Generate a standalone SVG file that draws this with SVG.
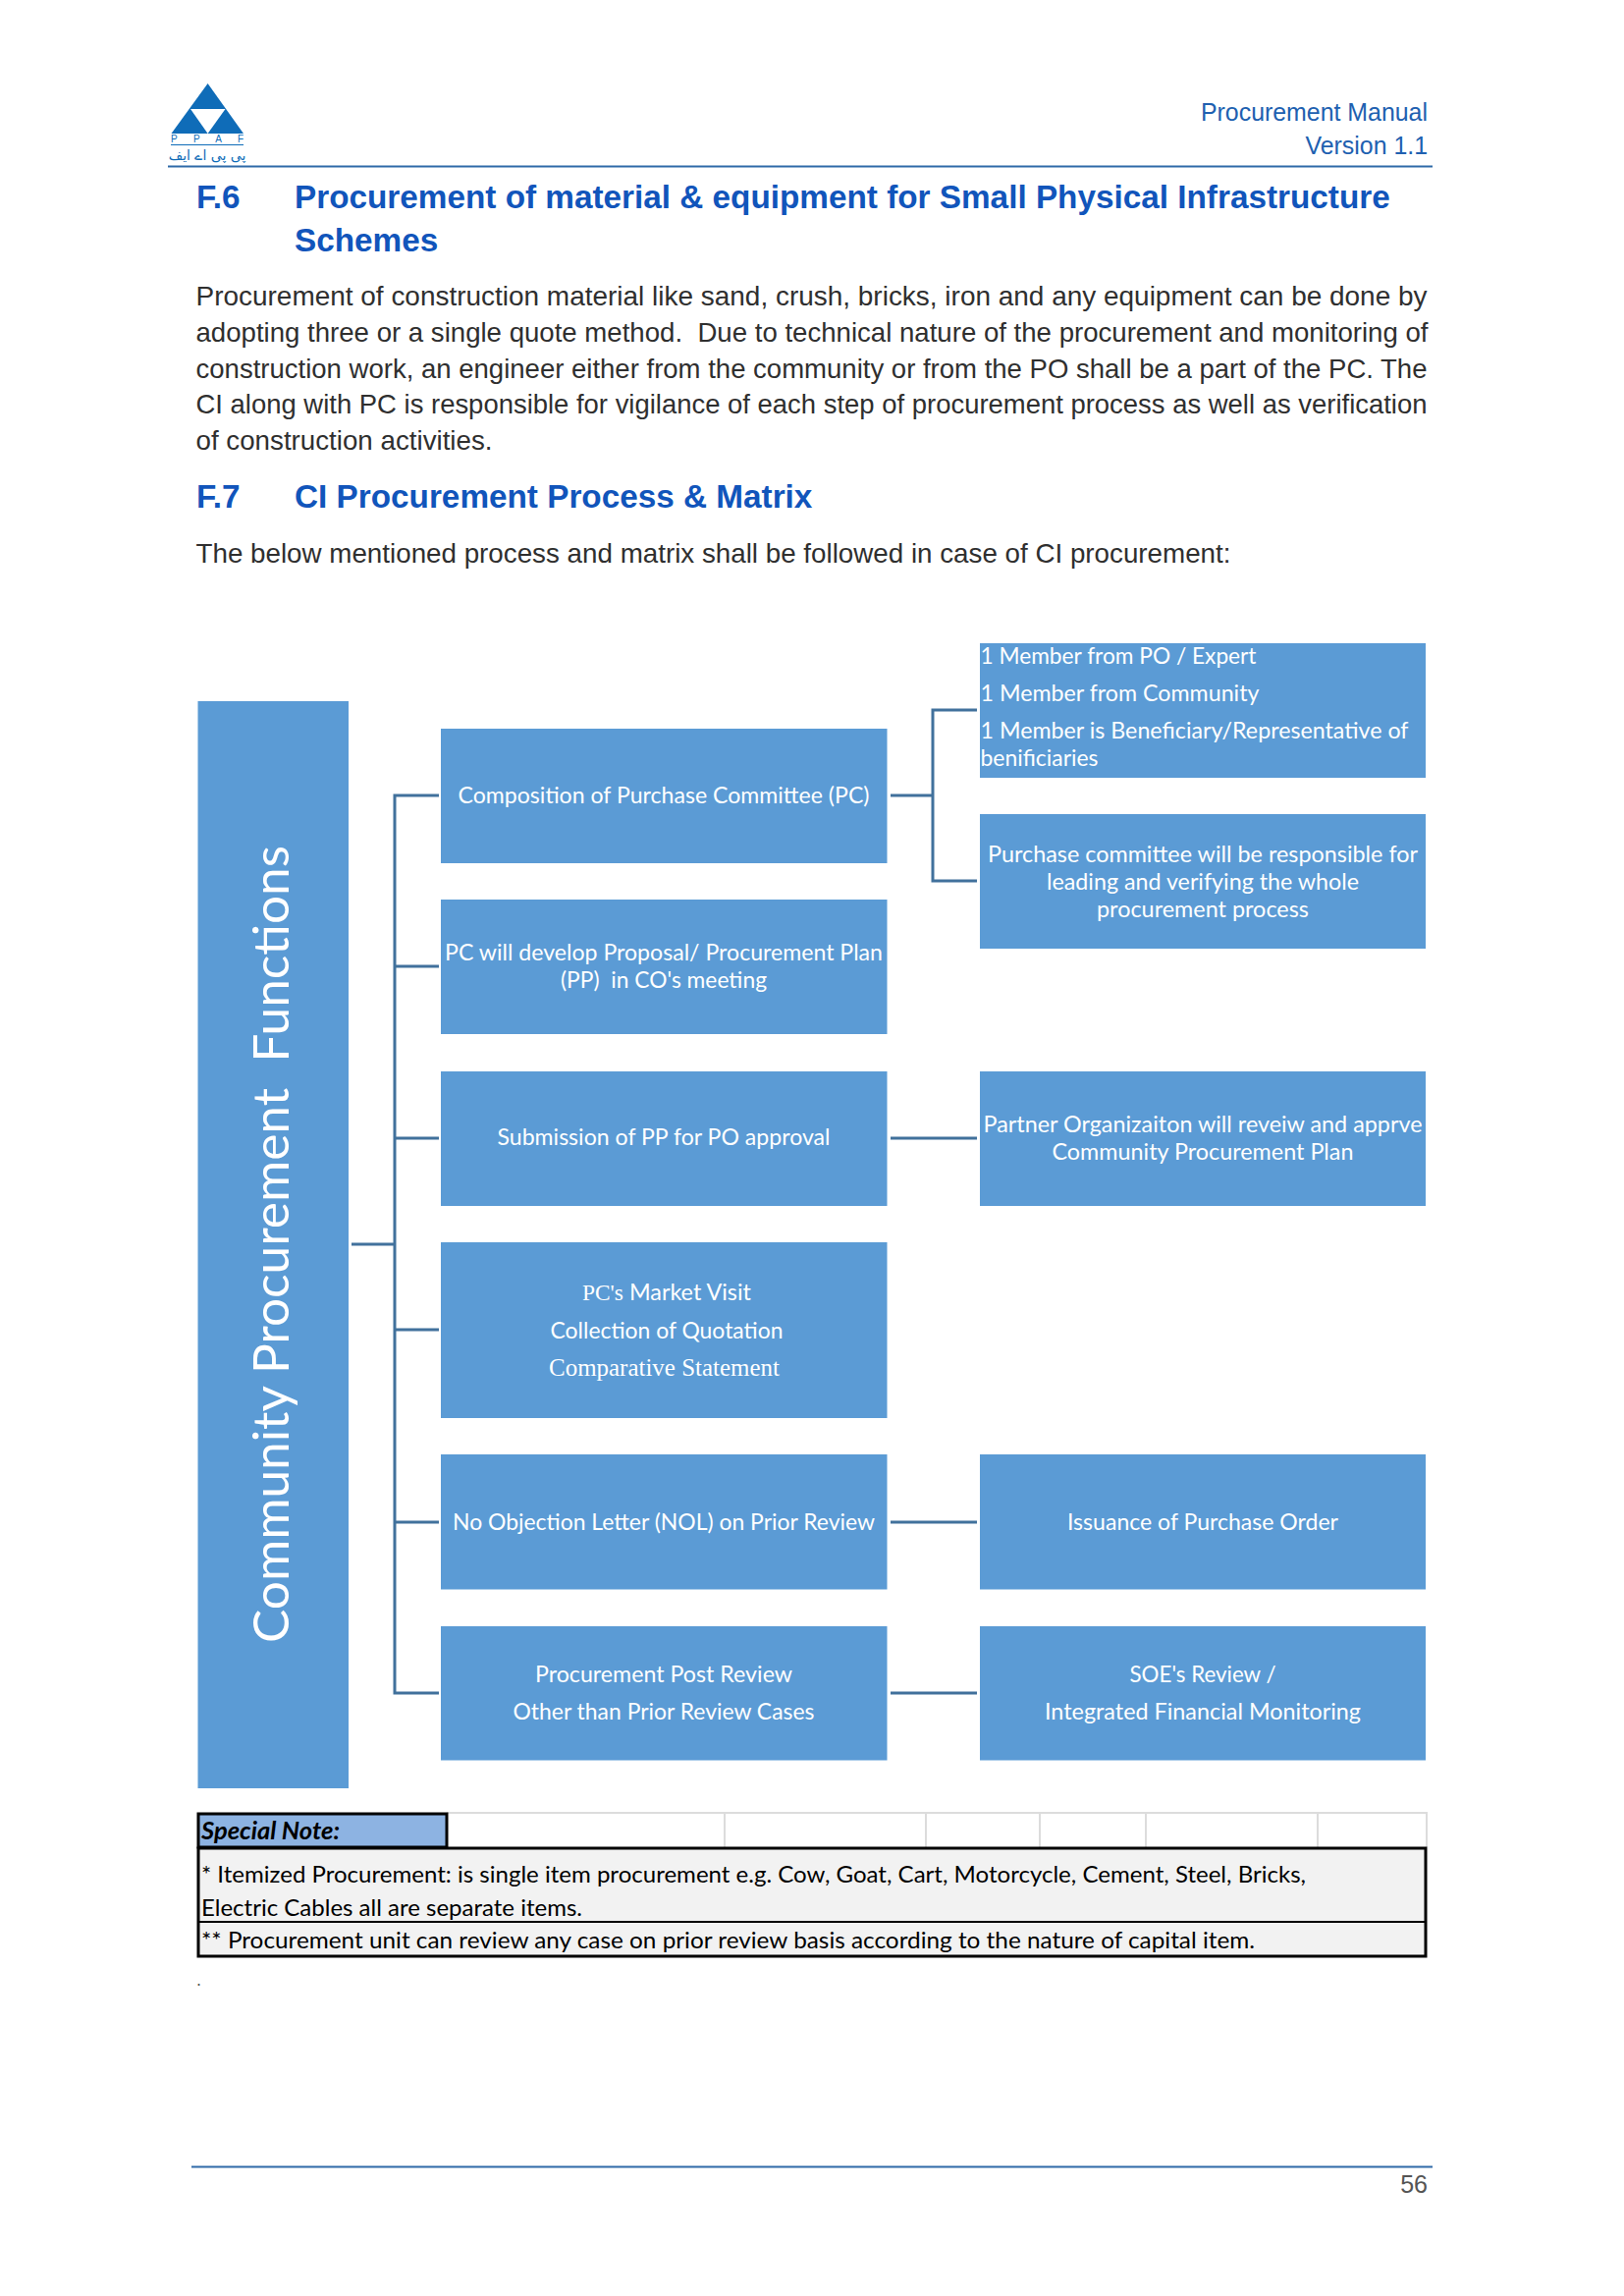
<svg xmlns="http://www.w3.org/2000/svg" width="1654" height="2338" viewBox="0 0 1654 2338">
<style>
text{font-family:"Liberation Sans",Arial,sans-serif}
.h{font-weight:bold;font-size:33.3px;fill:#1155bb}
.b{font-size:27.5px;fill:#2f2f2f}
.hdr{font-size:24.9px;fill:#2060b0}
.box{fill:#5b9bd5}
.t{font-family:Lato,"Open Sans",sans-serif;font-size:23px;fill:#fff}
.c{text-anchor:middle}
.n{font-family:Lato,"Open Sans",sans-serif;font-size:24px;fill:#000}
.s{font-family:"Liberation Serif",serif;font-size:25px;fill:#fff;text-anchor:middle}
.sf{font-family:"Liberation Serif",serif}
.conn{fill:none;stroke:#41719c;stroke-width:3}
.grid{stroke:#dcdcdc;stroke-width:2;fill:none}
.bk{stroke:#000;fill:none}
.rule{stroke:#2f6aa8;stroke-width:2}
</style>
<rect width="1654" height="2338" fill="#fff"/>
<g id="logo">
<path d="M211.6 85L248 136H174.5Z" fill="#0f6cb8"/>
<path d="M194 111H229.500L211.6 136Z" fill="#fff"/>
<text x="174" y="145" font-size="10" fill="#0f6cb8" textLength="74">P P A F</text>
<path d="M174 147.500H248" stroke="#0f6cb8" stroke-width="1"/>
<text x="211" y="163" font-size="14" text-anchor="middle" fill="#0f6cb8" style="font-family:'DejaVu Sans',sans-serif">پی پی اے ایف</text>
</g>
<g id="header">
<text class="hdr" x="1454" y="123" text-anchor="end">Procurement Manual</text>
<text class="hdr" x="1454" y="157" text-anchor="end">Version 1.1</text>
<path class="rule" d="M171 169.500H1459"/>
</g>
<g id="text">
<text class="h" x="200" y="212">F.6</text>
<text class="h" x="300" y="212">Procurement of material &amp; equipment for Small Physical Infrastructure</text>
<text class="h" x="300" y="256">Schemes</text>
<text class="b" x="199.500" y="311" textLength="1254" lengthAdjust="spacingAndGlyphs">Procurement of construction material like sand, crush, bricks, iron and any equipment can be done by</text>
<text class="b" x="199.500" y="348" textLength="1255" lengthAdjust="spacingAndGlyphs" xml:space="preserve">adopting three or a single quote method.  Due to technical nature of the procurement and monitoring of</text>
<text class="b" x="199.500" y="384.500" textLength="1254" lengthAdjust="spacingAndGlyphs">construction work, an engineer either from the community or from the PO shall be a part of the PC. The</text>
<text class="b" x="199.500" y="421" textLength="1254" lengthAdjust="spacingAndGlyphs">CI along with PC is responsible for vigilance of each step of procurement process as well as verification</text>
<text class="b" x="199.500" y="458" textLength="302" lengthAdjust="spacingAndGlyphs">of construction activities.</text>
<text class="h" x="200" y="516.500">F.7</text>
<text class="h" x="300" y="516.500">CI Procurement Process &amp; Matrix</text>
<text class="b" x="199.500" y="572.500" textLength="1054" lengthAdjust="spacingAndGlyphs">The below mentioned process and matrix shall be followed in case of CI procurement:</text>
</g>
<g id="connectors">
<path class="conn" d="M358 1267H402M447 810H402V1724H447M402 984H447M402 1159H447M402 1354H447M402 1550H447"/>
<path class="conn" d="M907 810H950M995 723H950V897H995"/>
<path class="conn" d="M907 1159H995M907 1550H995M907 1724H995"/>
</g>
<g id="n-root"><rect class="box" x="201.500" y="714" width="153.500" height="1107"/>
<text transform="translate(294 1267) rotate(-90)" text-anchor="middle" style="font-family:Lato,'Open Sans',sans-serif;font-size:50px;fill:#fff" textLength="812" lengthAdjust="spacingAndGlyphs" xml:space="preserve">Community Procurement  Functions</text></g>
<g id="n-pc"><rect class="box" x="449" y="742" width="454.500" height="137"/><text class="t c" x="676" y="818" textLength="419" lengthAdjust="spacingAndGlyphs">Composition of Purchase Committee (PC)</text></g>
<g id="n-plan"><rect class="box" x="449" y="916" width="454.500" height="137"/><text class="t c" x="676" y="978" textLength="446" lengthAdjust="spacingAndGlyphs">PC will develop Proposal/ Procurement Plan</text><text class="t c" x="676" y="1006" textLength="210" lengthAdjust="spacingAndGlyphs" xml:space="preserve">(PP)  in CO's meeting</text></g>
<g id="n-sub"><rect class="box" x="449" y="1091" width="454.500" height="137"/><text class="t c" x="676" y="1166" textLength="339" lengthAdjust="spacingAndGlyphs">Submission of PP for PO approval</text></g>
<g id="n-market"><rect class="box" x="449" y="1265" width="454.500" height="179"/><text class="t c" x="679" y="1324" textLength="172" lengthAdjust="spacingAndGlyphs"><tspan class="sf">PC's</tspan> Market Visit</text><text class="t c" x="679" y="1363" textLength="237" lengthAdjust="spacingAndGlyphs">Collection of Quotation</text><text class="s" x="676.500" y="1400.500" textLength="235" lengthAdjust="spacingAndGlyphs">Comparative Statement</text></g>
<g id="n-nol"><rect class="box" x="449" y="1481" width="454.500" height="137.500"/><text class="t c" x="676" y="1558" textLength="430" lengthAdjust="spacingAndGlyphs">No Objection Letter (NOL) on Prior Review</text></g>
<g id="n-post"><rect class="box" x="449" y="1656" width="454.500" height="136.500"/><text class="t c" x="676" y="1713" textLength="262" lengthAdjust="spacingAndGlyphs">Procurement Post Review</text><text class="t c" x="676" y="1751" textLength="307" lengthAdjust="spacingAndGlyphs">Other than Prior Review Cases</text></g>
<g id="n-members"><rect class="box" x="998" y="655" width="454" height="137"/><text class="t" x="998.500" y="676" textLength="281" lengthAdjust="spacingAndGlyphs">1 Member from PO / Expert</text><text class="t" x="998.500" y="714" textLength="284" lengthAdjust="spacingAndGlyphs">1 Member from Community</text><text class="t" x="998.500" y="752" textLength="436" lengthAdjust="spacingAndGlyphs">1 Member is Beneficiary/Representative of</text><text class="t" x="998.500" y="780" textLength="120" lengthAdjust="spacingAndGlyphs">benificiaries</text></g>
<g id="n-resp"><rect class="box" x="998" y="829" width="454" height="137"/><text class="t c" x="1225" y="878" textLength="438" lengthAdjust="spacingAndGlyphs">Purchase committee will be responsible for</text><text class="t c" x="1225" y="906" textLength="318" lengthAdjust="spacingAndGlyphs">leading and verifying the whole</text><text class="t c" x="1225" y="934" textLength="216" lengthAdjust="spacingAndGlyphs">procurement process</text></g>
<g id="n-po"><rect class="box" x="998" y="1091" width="454" height="137"/><text class="t c" x="1225" y="1153" textLength="447" lengthAdjust="spacingAndGlyphs">Partner Organizaiton will reveiw and apprve</text><text class="t c" x="1225" y="1181" textLength="307" lengthAdjust="spacingAndGlyphs">Community Procurement Plan</text></g>
<g id="n-order"><rect class="box" x="998" y="1481" width="454" height="137.500"/><text class="t c" x="1225" y="1558" textLength="276" lengthAdjust="spacingAndGlyphs">Issuance of Purchase Order</text></g>
<g id="n-soe"><rect class="box" x="998" y="1656" width="454" height="136.500"/><text class="t c" x="1225" y="1713" textLength="149" lengthAdjust="spacingAndGlyphs">SOE's Review /</text><text class="t c" x="1225" y="1751" textLength="322" lengthAdjust="spacingAndGlyphs">Integrated Financial Monitoring</text></g>
<g id="note">
<path class="grid" d="M455 1846H1453V1881M738 1846V1881M943 1846V1881M1059 1846V1881M1167 1846V1881M1342 1846V1881"/>
<rect x="202" y="1847" width="253" height="34" fill="#8db3e2" stroke="#000" stroke-width="3"/>
<rect x="202" y="1882" width="1250" height="110" fill="#f2f2f2"/>
<path class="bk" stroke-width="3" d="M202 1882H1452V1992H202Z"/>
<path class="bk" stroke-width="2" d="M202 1957H1452"/>
<text class="n" x="205" y="1873" font-weight="bold" font-style="italic" textLength="141" lengthAdjust="spacingAndGlyphs">Special Note:</text>
<text class="n" x="205" y="1917" textLength="1125" lengthAdjust="spacingAndGlyphs">* Itemized Procurement: is single item procurement e.g. Cow, Goat, Cart, Motorcycle, Cement, Steel, Bricks,</text>
<text class="n" x="205" y="1950.500" textLength="388" lengthAdjust="spacingAndGlyphs">Electric Cables all are separate items.</text>
<text class="n" x="205" y="1984" textLength="1073" lengthAdjust="spacingAndGlyphs">** Procurement unit can review any case on prior review basis according to the nature of capital item.</text>
</g>
<g id="footer">
<text x="200" y="2022" font-size="18" fill="#555">.</text>
<path class="rule" d="M195 2206.500H1459"/>
<text x="1454" y="2232.500" text-anchor="end" font-size="25" fill="#555">56</text>
</g>
</svg>
